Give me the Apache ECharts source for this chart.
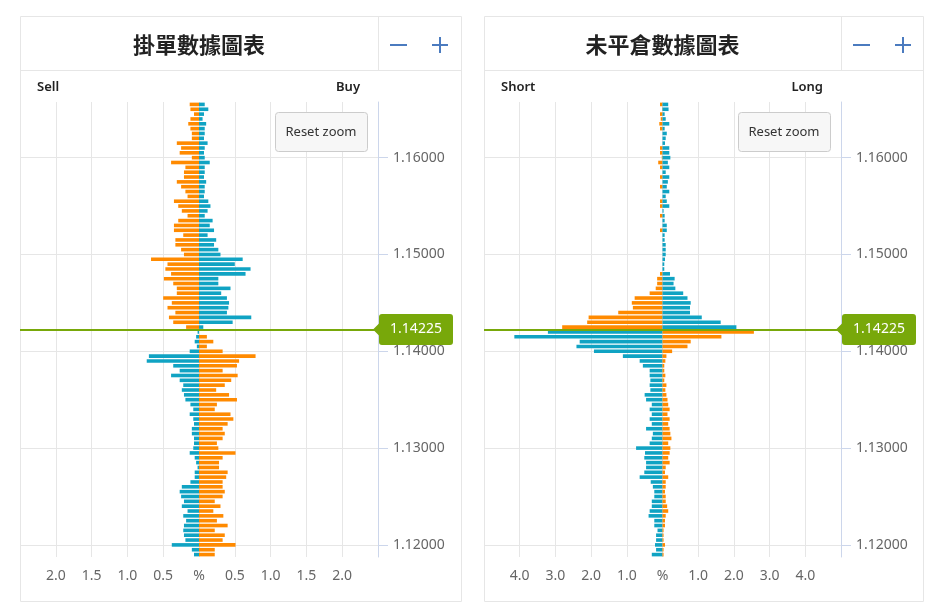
<!DOCTYPE html>
<html><head><meta charset="utf-8">
<script src="https://cdn.jsdelivr.net/npm/echarts@6/dist/echarts.min.js"></script>
<style>html,body{margin:0;padding:0;background:#fff}#c{width:940px;height:606px}</style>
</head><body><div id="c"></div>
<script>
// ---- data (top row first) ----
const priceLevels = [
 1.1655,1.1650,1.1645,1.1640,1.1635,1.1630,1.1625,1.1620,1.1615,1.1610,
 1.1605,1.1600,1.1595,1.1590,1.1585,1.1580,1.1575,1.1570,1.1565,1.1560,
 1.1555,1.1550,1.1545,1.1540,1.1535,1.1530,1.1525,1.1520,1.1515,1.1510,
 1.1505,1.1500,1.1495,1.1490,1.1485,1.1480,1.1475,1.1470,1.1465,1.1460,
 1.1455,1.1450,1.1445,1.1440,1.1435,1.1430,1.1425,1.1420,1.1415,1.1410,
 1.1405,1.1400,1.1395,1.1390,1.1385,1.1380,1.1375,1.1370,1.1365,1.1360,
 1.1355,1.1350,1.1345,1.1340,1.1335,1.1330,1.1325,1.1320,1.1315,1.1310,
 1.1305,1.1300,1.1295,1.1290,1.1285,1.1280,1.1275,1.1270,1.1265,1.1260,
 1.1255,1.1250,1.1245,1.1240,1.1235,1.1230,1.1225,1.1220,1.1215,1.1210,
 1.1205,1.1200,1.1195,1.1190
];
const currentPrice = 1.14225;
const orderSell = [
 0.13,0.12,0.07,0.12,0.15,0.12,0.10,0.10,0.31,0.25,
 0.27,0.10,0.39,0.19,0.21,0.21,0.31,0.25,0.19,0.16,
 0.35,0.29,0.24,0.16,0.29,0.35,0.35,0.22,0.33,0.33,
 0.25,0.21,0.67,0.44,0.47,0.39,0.49,0.36,0.31,0.31,
 0.50,0.38,0.44,0.33,0.42,0.36,0.18,0.02,0.04,0.06,
 0.03,0.13,0.70,0.73,0.36,0.27,0.39,0.27,0.22,0.24,
 0.21,0.19,0.12,0.08,0.13,0.08,0.07,0.10,0.10,0.07,
 0.07,0.08,0.13,0.06,0.04,0.02,0.06,0.06,0.12,0.24,
 0.27,0.25,0.21,0.24,0.16,0.22,0.18,0.21,0.22,0.21,
 0.19,0.38,0.10,0.07
];
const orderBuy = [
 0.08,0.13,0.07,0.05,0.10,0.08,0.08,0.07,0.12,0.08,
 0.07,0.08,0.15,0.08,0.08,0.07,0.10,0.08,0.08,0.07,
 0.13,0.16,0.12,0.08,0.19,0.15,0.21,0.12,0.24,0.21,
 0.27,0.30,0.61,0.50,0.72,0.65,0.27,0.27,0.44,0.31,
 0.39,0.42,0.41,0.39,0.73,0.47,0.06,0,0.11,0.20,
 0.11,0.33,0.79,0.56,0.53,0.33,0.54,0.45,0.36,0.24,
 0.42,0.53,0.25,0.22,0.44,0.48,0.40,0.33,0.36,0.33,
 0.25,0.27,0.51,0.33,0.28,0.28,0.40,0.38,0.33,0.33,
 0.36,0.33,0.22,0.30,0.20,0.34,0.25,0.40,0.22,0.36,
 0.33,0.51,0.22,0.22
];
const posShort = [
 0.07,0.01,0.07,0.05,0.09,0.07,0,0,0,0.07,
 0.07,0.02,0.12,0.07,0,0.07,0,0.07,0,0,
 0.07,0.07,0,0.07,0,0,0.07,0,0,0,
 0,0,0,0,0,0.07,0.15,0.15,0.19,0.36,
 0.78,0.86,0.83,1.24,2.07,2.11,2.81,3.21,4.15,2.32,
 2.41,1.92,1.11,0.64,0.55,0.36,0.36,0.34,0.36,0.34,
 0.50,0.46,0.30,0.36,0.30,0.36,0.30,0.46,0.27,0.30,
 0.36,0.74,0.49,0.51,0.46,0.46,0.51,0.64,0.33,0.27,
 0.23,0.23,0.30,0.30,0.36,0.39,0.23,0.23,0.14,0.18,
 0.18,0.21,0.18,0.30
];
const posLong = [
 0.16,0.17,0.06,0.09,0.19,0.06,0.12,0.09,0.07,0.19,
 0.19,0.22,0.15,0.19,0.09,0.19,0.15,0.12,0.19,0.09,
 0.12,0.19,0.03,0.06,0.06,0.12,0.12,0.06,0.06,0.09,
 0.09,0.09,0.07,0.05,0.05,0.21,0.34,0.31,0.36,0.58,
 0.70,0.79,0.77,0.77,1.10,1.63,2.07,2.56,1.65,0.79,
 0.70,0.27,0.11,0.08,0.05,0.05,0.08,0.05,0.11,0.08,
 0.11,0.14,0.16,0.20,0.14,0.20,0.16,0.20,0.22,0.25,
 0.16,0.22,0.20,0.16,0.20,0.09,0.07,0.16,0.09,0.09,
 0.07,0.09,0.09,0.13,0.16,0.09,0.07,0.07,0.03,0.03,
 0.03,0.07,0.03,0.03
];
const priceTicks = [1.12, 1.13, 1.14, 1.15, 1.16];
const panelTitles = ['掛單數據圖表', '未平倉數據圖表'];
const sideLabels = [['Sell', 'Buy'], ['Short', 'Long']];
const resetText = 'Reset zoom';

// ---- styling / layout ----
const ORANGE = '#ff8a00', TEAL = '#10a3c3', GREEN = '#78a80a';
const FONT = "'Noto Sans','Open Sans',sans-serif";
const CJK = "'Noto Sans CJK TC','Noto Sans CJK SC',sans-serif";
const yMin = 1.11875, yMax = 1.16575;
const panels = [
  {left: 20, right: 378, boxR: 461, xMax: 2.5, xStep: 0.5, neg: orderSell, pos: orderBuy},
  {left: 484, right: 841, boxR: 923, xMax: 5, xStep: 1, neg: posShort, pos: posLong}
];
const TOP = 102, H = 455;

const grid = [], xAxis = [], yAxis = [], series = [], graphic = [];
panels.forEach((p, i) => {
  grid.push({left: p.left, width: p.right - p.left, top: TOP, height: H});
  xAxis.push({
    gridIndex: i, type: 'value', min: -p.xMax, max: p.xMax, interval: p.xStep,
    axisLine: {show: false}, axisTick: {show: false},
    splitLine: {show: true, lineStyle: {color: '#e6e6e6', width: 1}},
    axisLabel: {color: '#666', fontSize: 14, fontFamily: FONT, margin: 12,
      formatter: v => Math.abs(v) < 1e-9 ? '%' : (Math.abs(v) > p.xMax - 1e-9 ? '' : Math.abs(v).toFixed(1))}
  });
  yAxis.push({gridIndex: i, type: 'category', data: priceLevels, inverse: true, show: false});
  yAxis.push({
    gridIndex: i, type: 'value', position: 'right', min: yMin, max: yMax,
    axisLine: {show: true, lineStyle: {color: '#ccd6eb', width: 1}},
    axisTick: {show: true, length: 10, customValues: priceTicks, lineStyle: {color: '#ccd6eb'}},
    axisLabel: {customValues: priceTicks, formatter: v => v.toFixed(5), color: '#666', fontSize: 14, fontFamily: FONT, margin: 15},
    splitLine: {show: true, lineStyle: {color: '#e6e6e6', width: 1}}
  });
  series.push({
    type: 'bar', xAxisIndex: i, yAxisIndex: 2 * i, data: p.neg.map(v => -v),
    barWidth: 3.6, barGap: '-100%', silent: true,
    itemStyle: {color: q => priceLevels[q.dataIndex] > currentPrice ? ORANGE : TEAL}
  });
  series.push({
    type: 'bar', xAxisIndex: i, yAxisIndex: 2 * i, data: p.pos,
    barWidth: 3.6, barGap: '-100%', silent: true,
    itemStyle: {color: q => priceLevels[q.dataIndex] > currentPrice ? TEAL : ORANGE}
  });
  series.push({
    type: 'line', xAxisIndex: i, yAxisIndex: 2 * i + 1, data: [[0, currentPrice]],
    symbol: 'none', showSymbol: false, lineStyle: {width: 0}, clip: false, silent: true, z: 5,
    markLine: {
      symbol: ['none', 'none'], silent: true, precision: 5, label: {show: false},
      lineStyle: {color: GREEN, width: 2, type: 'solid'}, emphasis: {disabled: true},
      data: [{yAxis: currentPrice}]
    },
    markPoint: {
      silent: true,
      symbol: 'path://M0,15.5L6,9.5L6,3Q6,0,9,0L77,0Q80,0,80,3L80,28Q80,31,77,31L9,31Q6,31,6,28L6,21.5Z',
      symbolSize: [80, 31], symbolOffset: [35, 0],
      itemStyle: {color: GREEN},
      label: {show: true, position: 'inside', offset: [3, 0], color: '#fff', fontSize: 14, fontFamily: FONT,
        formatter: currentPrice.toFixed(5)},
      data: [{coord: [p.xMax, currentPrice]}]
    }
  });

  // decorations
  graphic.push({type: 'rect', silent: true, z: 0,
    shape: {x: p.left + 0.5, y: 16.5, width: p.boxR - p.left, height: 585},
    style: {fill: 'none', stroke: '#e6e6e6', lineWidth: 1}});
  graphic.push({type: 'line', silent: true, shape: {x1: p.left, y1: 70.5, x2: p.boxR + 0.5, y2: 70.5},
    style: {stroke: '#e6e6e6', lineWidth: 1}});
  graphic.push({type: 'line', silent: true, shape: {x1: p.right + 0.5, y1: 17, x2: p.right + 0.5, y2: 70},
    style: {stroke: '#e6e6e6', lineWidth: 1}});
  graphic.push({type: 'text', silent: true,
    style: {text: panelTitles[i], x: (p.left + p.right) / 2, y: 45, font: 'bold 22px ' + CJK, fill: '#222',
      align: 'center', verticalAlign: 'middle', textAlign: 'center', textVerticalAlign: 'middle'}});
  graphic.push({type: 'line', silent: true, shape: {x1: p.right + 12, y1: 45, x2: p.right + 29, y2: 45},
    style: {stroke: '#4b7bbf', lineWidth: 2}});
  graphic.push({type: 'line', silent: true, shape: {x1: p.right + 54, y1: 45, x2: p.right + 70, y2: 45},
    style: {stroke: '#4b7bbf', lineWidth: 2}});
  graphic.push({type: 'line', silent: true, shape: {x1: p.right + 62, y1: 37, x2: p.right + 62, y2: 53},
    style: {stroke: '#4b7bbf', lineWidth: 2}});
  graphic.push({type: 'text', silent: true,
    style: {text: sideLabels[i][0], x: p.left + 17, y: 87, font: '600 13px ' + FONT, fill: '#222',
      align: 'left', verticalAlign: 'middle', textAlign: 'left', textVerticalAlign: 'middle'}});
  graphic.push({type: 'text', silent: true,
    style: {text: sideLabels[i][1], x: p.right - 18, y: 87, font: '600 13px ' + FONT, fill: '#222',
      align: 'right', verticalAlign: 'middle', textAlign: 'right', textVerticalAlign: 'middle'}});
  graphic.push({type: 'rect', silent: true, z: 100,
    shape: {x: p.right - 103 + 0.5, y: 112.5, width: 92, height: 39, r: 3},
    style: {fill: '#f7f7f7', stroke: '#cccccc', lineWidth: 1}});
  graphic.push({type: 'text', silent: true, z: 101,
    style: {text: resetText, x: p.right - 57, y: 132, font: '13px ' + FONT, fill: '#333',
      align: 'center', verticalAlign: 'middle', textAlign: 'center', textVerticalAlign: 'middle'}});
});

const chart = echarts.init(document.getElementById('c'), null, {renderer: 'canvas'});
chart.setOption({
  animation: false,
  backgroundColor: '#fff',
  grid, xAxis, yAxis, series, graphic
});
</script>
</body></html>
